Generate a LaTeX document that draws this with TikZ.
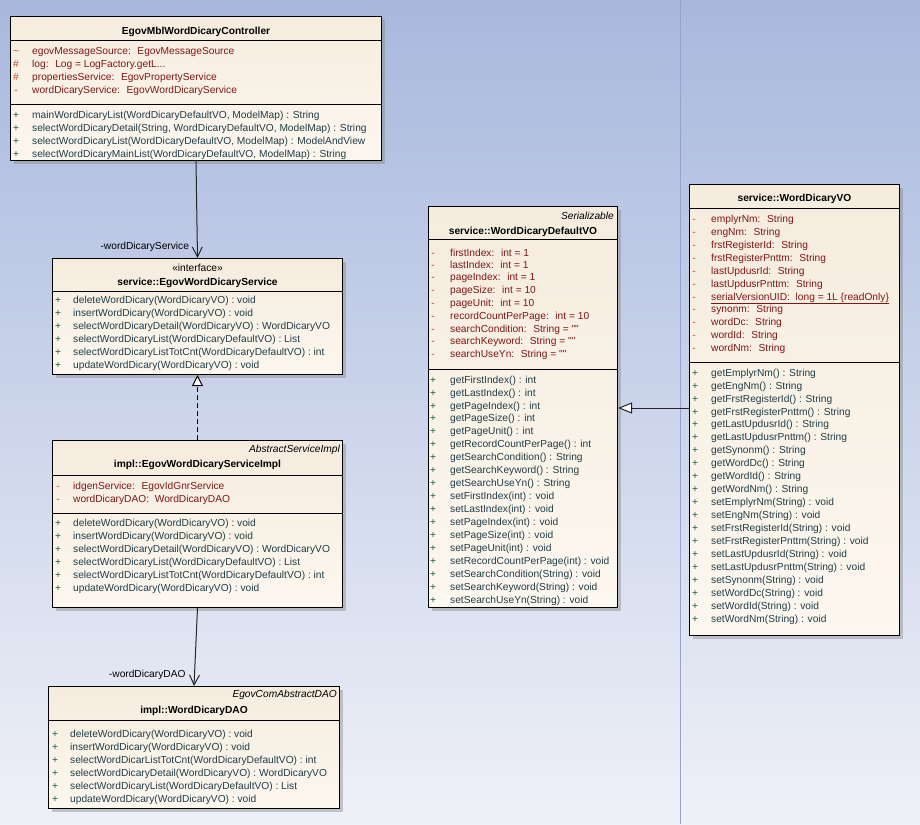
\documentclass[tikz,border=0pt]{standalone}
\usepackage{fontspec}
\newfontfamily\umlfont{Liberation Sans}
\usetikzlibrary{arrows.meta,shadows}

\definecolor{bgtop}{RGB}{168,184,221}
\definecolor{bgbottom}{RGB}{239,241,248}
\definecolor{boxtop}{RGB}{245,236,222}
\definecolor{boxbottom}{RGB}{252,247,239}
\definecolor{attrred}{RGB}{128,22,22}
\definecolor{visred}{RGB}{190,70,35}
\definecolor{opteal}{RGB}{32,62,72}
\definecolor{plusgreen}{RGB}{28,92,60}
\definecolor{lanecol}{RGB}{150,162,205}

\newcommand{\umlsize}{\umlfont\fontsize{10.2}{12}\selectfont}

\tikzset{
  classbox/.style={draw=black, line width=1pt, anchor=north west, inner sep=0pt,
    top color=boxtop, bottom color=boxbottom,
    drop shadow={shadow xshift=3pt, shadow yshift=-3pt, fill=black!50, opacity=0.4}},
  compline/.style={draw=black, line width=1pt},
  umltext/.style={font=\umlsize, inner sep=0pt, yshift=-3.6pt},
  classname/.style={umltext, anchor=base, font=\umlsize\bfseries},
  stereo/.style={umltext, anchor=base},
  parentname/.style={umltext, anchor=base east, font=\umlsize\itshape},
  attrvis/.style={umltext, anchor=base, text=visred},
  attrtext/.style={umltext, anchor=base west, text=attrred},
  opvis/.style={umltext, anchor=base, text=plusgreen},
  optext/.style={umltext, anchor=base west, text=opteal},
  rolelabel/.style={font=\umlsize, inner sep=0pt, anchor=base east, xshift=-8pt, yshift=8.4pt, text=black},
  assoc/.style={draw=black!85, line width=1pt, -{Straight Barb[length=10pt,width=10pt]}},
  realize/.style={draw=black, line width=1pt, dash pattern=on 5pt off 3pt,
    -{Triangle[open,length=11pt,width=11pt,fill=white]}},
  generalize/.style={draw=black!85, line width=1pt, -{Triangle[open,length=14pt,width=11pt,fill=white]}},
}

\begin{document}
\begin{tikzpicture}[x=1pt, y=-1pt]
  \useasboundingbox (0,0) rectangle (920,824);
  % Hintergrund
  \fill[top color=bgtop, bottom color=bgbottom] (0,0) rectangle (920,824);
  \draw[lanecol, line width=0.8pt] (680,0) -- (680,824);

  % Controller
  \node[classbox, minimum width=371pt, minimum height=144pt] (ctrl) at (10,16) {};
  \node[classname] (ctrl-name) at (ctrl.north |- 0,31) {EgovMblWordDicaryController};
  \draw[compline] (ctrl.west |- 0,41) -- (ctrl.east |- 0,41);
  \draw[compline] (ctrl.west |- 0,105) -- (ctrl.east |- 0,105);
  \foreach \y/\v/\t [count=\i] in {51/\textasciitilde/{egovMessageSource:~ EgovMessageSource},
      64/\#/{log:~ Log = LogFactory.getL...},
      77/\#/{propertiesService:~ EgovPropertyService},
      90/-/{wordDicaryService:~ EgovWordDicaryService}} {
    \node[attrvis] (ctrl-av\i) at (16,\y) {\v};
    \node[attrtext] (ctrl-a\i) at (32,\y) {\t};
  }
  \foreach \y/\t [count=\i] in {115/{mainWordDicaryList(WordDicaryDefaultVO, ModelMap) : String},
      128/{selectWordDicaryDetail(String, WordDicaryDefaultVO, ModelMap) : String},
      141/{selectWordDicaryList(WordDicaryDefaultVO, ModelMap) : ModelAndView},
      154/{selectWordDicaryMainList(WordDicaryDefaultVO, ModelMap) : String}} {
    \node[opvis] (ctrl-ov\i) at (16,\y) {+};
    \node[optext] (ctrl-o\i) at (32,\y) {\t};
  }

  % Interface Service
  \node[classbox, minimum width=290pt, minimum height=116pt] (svc) at (52,258) {};
  \node[stereo] (svc-stereo) at (svc.north |- 0,268) {«interface»};
  \node[classname] (svc-name) at (svc.north |- 0,282) {service::EgovWordDicaryService};
  \draw[compline] (svc.west |- 0,291) -- (svc.east |- 0,291);
  \foreach \y/\t [count=\i] in {300/{deleteWordDicary(WordDicaryVO) : void},
      313/{insertWordDicary(WordDicaryVO) : void},
      326/{selectWordDicaryDetail(WordDicaryVO) : WordDicaryVO},
      339/{selectWordDicaryList(WordDicaryDefaultVO) : List},
      352/{selectWordDicaryListTotCnt(WordDicaryDefaultVO) : int},
      365/{updateWordDicary(WordDicaryVO) : void}} {
    \node[opvis] (svc-ov\i) at (58,\y) {+};
    \node[optext] (svc-o\i) at (73,\y) {\t};
  }

  % ServiceImpl
  \node[classbox, minimum width=290pt, minimum height=167pt] (impl) at (52,440) {};
  \node[parentname] (impl-parent) at (340,449) {AbstractServiceImpl};
  \node[classname] (impl-name) at (impl.north |- 0,464) {impl::EgovWordDicaryServiceImpl};
  \draw[compline] (impl.west |- 0,475) -- (impl.east |- 0,475);
  \draw[compline] (impl.west |- 0,513) -- (impl.east |- 0,513);
  \foreach \y/\v/\t [count=\i] in {486/-/{idgenService:~ EgovIdGnrService},
      499/-/{wordDicaryDAO:~ WordDicaryDAO}} {
    \node[attrvis] (impl-av\i) at (58,\y) {\v};
    \node[attrtext] (impl-a\i) at (73,\y) {\t};
  }
  \foreach \y/\t [count=\i] in {522.5/{deleteWordDicary(WordDicaryVO) : void},
      536/{insertWordDicary(WordDicaryVO) : void},
      549/{selectWordDicaryDetail(WordDicaryVO) : WordDicaryVO},
      562/{selectWordDicaryList(WordDicaryDefaultVO) : List},
      575/{selectWordDicaryListTotCnt(WordDicaryDefaultVO) : int},
      588/{updateWordDicary(WordDicaryVO) : void}} {
    \node[opvis] (impl-ov\i) at (58,\y) {+};
    \node[optext] (impl-o\i) at (73,\y) {\t};
  }

  % DAO
  \node[classbox, minimum width=291pt, minimum height=122pt] (dao) at (48,686) {};
  \node[parentname] (dao-parent) at (337,693.5) {EgovComAbstractDAO};
  \node[classname] (dao-name) at (dao.north |- 0,710) {impl::WordDicaryDAO};
  \draw[compline] (dao.west |- 0,720) -- (dao.east |- 0,720);
  \foreach \y/\t [count=\i] in {734/{deleteWordDicary(WordDicaryVO) : void},
      747/{insertWordDicary(WordDicaryVO) : void},
      759.5/{selectWordDicarListTotCnt(WordDicaryDefaultVO) : int},
      772.5/{selectWordDicaryDetail(WordDicaryVO) : WordDicaryVO},
      785.5/{selectWordDicaryList(WordDicaryDefaultVO) : List},
      798.5/{updateWordDicary(WordDicaryVO) : void}} {
    \node[opvis] (dao-ov\i) at (55,\y) {+};
    \node[optext] (dao-o\i) at (70,\y) {\t};
  }

  % DefaultVO
  \node[classbox, minimum width=189pt, minimum height=401pt] (dvo) at (428,206) {};
  \node[parentname] (dvo-parent) at (614,215.5) {Serializable};
  \node[classname] (dvo-name) at (dvo.north |- 0,231) {service::WordDicaryDefaultVO};
  \draw[compline] (dvo.west |- 0,239.5) -- (dvo.east |- 0,239.5);
  \draw[compline] (dvo.west |- 0,369) -- (dvo.east |- 0,369);
  \foreach \y/\t [count=\i] in {252.7/{firstIndex:~ int = 1}, 264.5/{lastIndex:~ int = 1},
      277/{pageIndex:~ int = 1}, 290/{pageSize:~ int = 10}, 302.7/{pageUnit:~ int = 10},
      315.7/{recordCountPerPage:~ int = 10}, 328.7/{searchCondition:~ String = ""},
      341.3/{searchKeyword:~ String = ""}, 354/{searchUseYn:~ String = ""}} {
    \node[attrvis] (dvo-av\i) at (433,\y) {-};
    \node[attrtext] (dvo-a\i) at (450,\y) {\t};
  }
  \foreach \y/\t [count=\i] in {380/{getFirstIndex() : int}, 392.7/{getLastIndex() : int},
      405.5/{getPageIndex() : int}, 418.3/{getPageSize() : int}, 431/{getPageUnit() : int},
      444/{getRecordCountPerPage() : int}, 456.7/{getSearchCondition() : String},
      469.7/{getSearchKeyword() : String}, 482.7/{getSearchUseYn() : String},
      495.7/{setFirstIndex(int) : void}, 508.5/{setLastIndex(int) : void},
      521.7/{setPageIndex(int) : void}, 534.7/{setPageSize(int) : void},
      547.7/{setPageUnit(int) : void}, 560.7/{setRecordCountPerPage(int) : void},
      573.7/{setSearchCondition(String) : void}, 586.7/{setSearchKeyword(String) : void},
      599.7/{setSearchUseYn(String) : void}} {
    \node[opvis] (dvo-ov\i) at (433,\y) {+};
    \node[optext] (dvo-o\i) at (450,\y) {\t};
  }

  % WordDicaryVO
  \node[classbox, minimum width=210pt, minimum height=451pt] (vo) at (689,184) {};
  \node[classname] (vo-name) at (vo.north |- 0,197.5) {service::WordDicaryVO};
  \draw[compline] (vo.west |- 0,208.5) -- (vo.east |- 0,208.5);
  \draw[compline] (vo.west |- 0,362) -- (vo.east |- 0,362);
  \foreach \y/\t [count=\i] in {219/{emplyrNm:~ String}, 232/{engNm:~ String},
      245/{frstRegisterId:~ String}, 258/{frstRegisterPnttm:~ String},
      270.5/{lastUpdusrId:~ String}, 283.5/{lastUpdusrPnttm:~ String},
      296.5/{\underline{serialVersionUID:~ long = 1L \{readOnly\}}},
      309/{synonm:~ String}, 322/{wordDc:~ String}, 335/{wordId:~ String},
      348/{wordNm:~ String}} {
    \node[attrvis] (vo-av\i) at (694,\y) {-};
    \node[attrtext] (vo-a\i) at (711,\y) {\t};
  }
  \foreach \y/\t [count=\i] in {372.5/{getEmplyrNm() : String}, 385.5/{getEngNm() : String},
      398.5/{getFrstRegisterId() : String}, 411.5/{getFrstRegisterPnttm() : String},
      424/{getLastUpdusrId() : String}, 437/{getLastUpdusrPnttm() : String},
      450/{getSynonm() : String}, 463/{getWordDc() : String},
      476/{getWordId() : String}, 489/{getWordNm() : String},
      501.5/{setEmplyrNm(String) : void}, 514.5/{setEngNm(String) : void},
      527.5/{setFrstRegisterId(String) : void}, 540.5/{setFrstRegisterPnttm(String) : void},
      553.5/{setLastUpdusrId(String) : void}, 566.5/{setLastUpdusrPnttm(String) : void},
      579.5/{setSynonm(String) : void}, 592.5/{setWordDc(String) : void},
      605.5/{setWordId(String) : void}, 618.5/{setWordNm(String) : void}} {
    \node[opvis] (vo-ov\i) at (695,\y) {+};
    \node[optext] (vo-o\i) at (711,\y) {\t};
  }

  % Beziehungen
  \draw[assoc] (ctrl.south) -- (svc.north) node[rolelabel, pos=1] (svc-role) {-wordDicaryService};
  \draw[realize] (impl.north) -- (svc.south);
  \draw[assoc] (impl.south) -- (dao.north) node[rolelabel, pos=1] (dao-role) {-wordDicaryDAO};
  \draw[generalize] (vo.west |- 0,408) -- (dvo.east |- 0,408);
\end{tikzpicture}
\end{document}
